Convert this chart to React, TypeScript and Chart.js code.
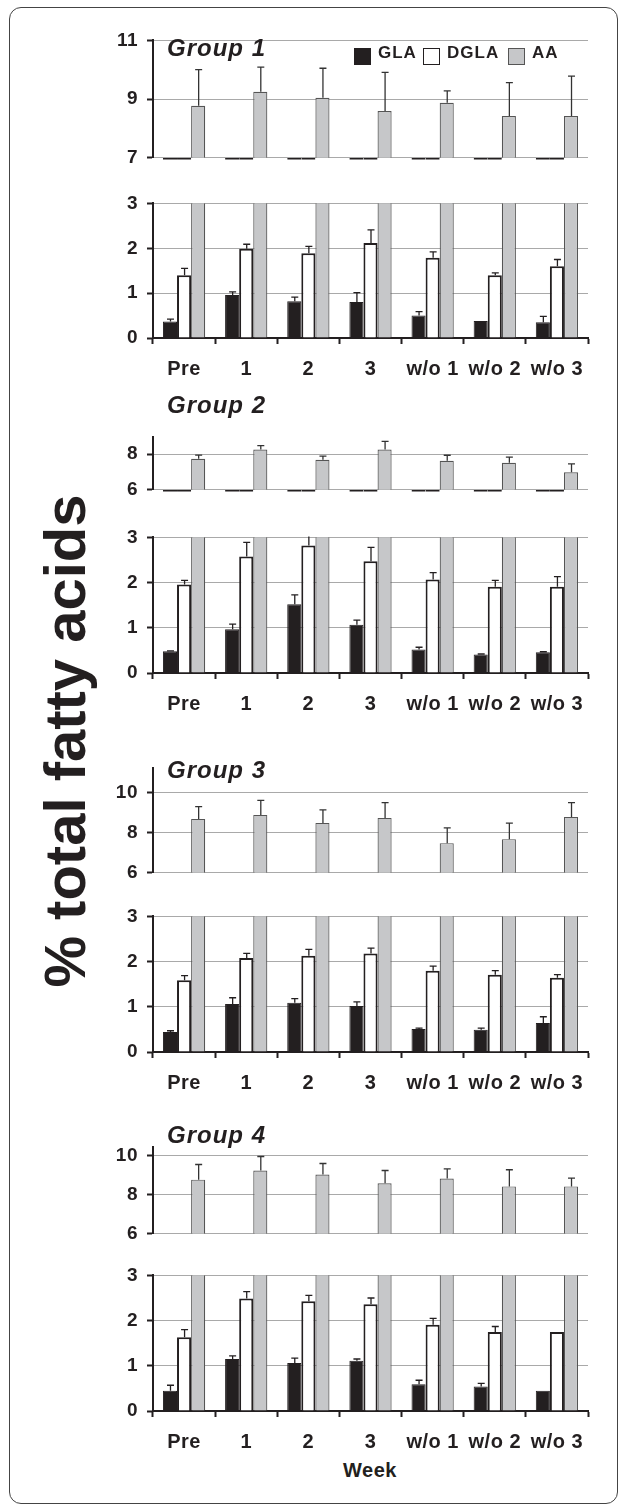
import React, { useEffect, useRef } from 'react';
import Chart from 'chart.js/auto';

// ---------- data ----------
const weeks = ['Pre', '1', '2', '3', 'w/o 1', 'w/o 2', 'w/o 3'];
const seriesNames = ['GLA', 'DGLA', 'AA'];
const groupNames = ['Group 1', 'Group 2', 'Group 3', 'Group 4'];

const g1GLA = [0.37, 0.96, 0.82, 0.8, 0.5, 0.38, 0.35];
const g1GLAsd = [0.05, 0.07, 0.09, 0.21, 0.09, 0, 0.13];
const g1DGLA = [1.4, 1.99, 1.89, 2.12, 1.79, 1.4, 1.6];
const g1DGLAsd = [0.15, 0.1, 0.15, 0.29, 0.13, 0.05, 0.15];
const g1AA = [8.77, 9.25, 9.04, 8.59, 8.87, 8.42, 8.42];
const g1AAsd = [1.23, 0.84, 1.01, 1.32, 0.41, 1.14, 1.36];

const g2GLA = [0.48, 0.97, 1.52, 1.07, 0.52, 0.41, 0.46];
const g2GLAsd = [0.01, 0.11, 0.21, 0.1, 0.05, 0.01, 0.01];
const g2DGLA = [1.96, 2.58, 2.82, 2.47, 2.07, 1.91, 1.91];
const g2DGLAsd = [0.09, 0.31, 0.25, 0.31, 0.15, 0.14, 0.22];
const g2AA = [7.74, 8.26, 7.68, 8.26, 7.63, 7.52, 6.98];
const g2AAsd = [0.21, 0.22, 0.21, 0.47, 0.31, 0.32, 0.47];

const g3GLA = [0.44, 1.06, 1.09, 1.02, 0.51, 0.49, 0.64];
const g3GLAsd = [0.03, 0.14, 0.09, 0.09, 0.02, 0.04, 0.14];
const g3DGLA = [1.59, 2.08, 2.13, 2.18, 1.8, 1.71, 1.64];
const g3DGLAsd = [0.1, 0.1, 0.14, 0.12, 0.1, 0.09, 0.07];
const g3AA = [8.68, 8.88, 8.48, 8.73, 7.47, 7.67, 8.78];
const g3AAsd = [0.61, 0.72, 0.65, 0.76, 0.76, 0.8, 0.71];

const g4GLA = [0.45, 1.15, 1.06, 1.11, 0.59, 0.54, 0.45];
const g4GLAsd = [0.12, 0.07, 0.11, 0.04, 0.09, 0.07, 0];
const g4DGLA = [1.63, 2.49, 2.43, 2.36, 1.91, 1.75, 1.75];
const g4DGLAsd = [0.17, 0.15, 0.13, 0.14, 0.14, 0.12, 0];
const g4AA = [8.78, 9.25, 9.04, 8.59, 8.84, 8.43, 8.43];
const g4AAsd = [0.78, 0.72, 0.57, 0.66, 0.49, 0.86, 0.43];

const lowerTicks = [0, 1, 2, 3];
const upperTicks = [[7, 9, 11], [6, 8], [6, 8, 10], [6, 8, 10]];
const upperMin = [7, 6, 6, 6];
const upperMax = [11, 8.95, 11.2, 10.44];
const lowerMin = 0;
const lowerMax = 3;

const groups = [
  { gla: g1GLA, glaSd: g1GLAsd, dgla: g1DGLA, dglaSd: g1DGLAsd, aa: g1AA, aaSd: g1AAsd },
  { gla: g2GLA, glaSd: g2GLAsd, dgla: g2DGLA, dglaSd: g2DGLAsd, aa: g2AA, aaSd: g2AAsd },
  { gla: g3GLA, glaSd: g3GLAsd, dgla: g3DGLA, dglaSd: g3DGLAsd, aa: g3AA, aaSd: g3AAsd },
  { gla: g4GLA, glaSd: g4GLAsd, dgla: g4DGLA, dglaSd: g4DGLAsd, aa: g4AA, aaSd: g4AAsd },
];

// ---------- layout / style ----------
const FONT = '"Liberation Sans", Arial, Helvetica, sans-serif';
const INK = '#231f20';
const GRAY = '#c6c7c9';
const GRID = '#a9a9a9';
const PAD = 16;
const XH = 46;
const AXIS_LEFT = 153;
const RIGHT_PAD = 37;

const layout = [
  { title: 56, uTop: 36, uBot: 162, lTop: 199, lBot: 338, baseMark: true },
  { title: 413, uTop: 433, uBot: 494, lTop: 533, lBot: 673, baseMark: true },
  { title: 778, uTop: 764, uBot: 877, lTop: 912, lBot: 1052, baseMark: false },
  { title: 1143, uTop: 1143, uBot: 1238, lTop: 1271, lBot: 1411, baseMark: false },
];

const errorBarPlugin = {
  id: 'errorBars',
  afterDatasetsDraw(chart: any) {
    const { ctx, chartArea } = chart;
    const y = chart.scales.y;
    ctx.save();
    ctx.beginPath();
    ctx.rect(chartArea.left, chartArea.top - 1, chartArea.right - chartArea.left, chartArea.bottom - chartArea.top + 1);
    ctx.clip();
    chart.data.datasets.forEach((ds: any, i: number) => {
      if (!ds.errors) return;
      const meta = chart.getDatasetMeta(i);
      meta.data.forEach((bar: any, j: number) => {
        const sd = ds.errors[j];
        if (!sd) return;
        const v = ds.data[j];
        const yv = y.getPixelForValue(v);
        const yt = y.getPixelForValue(v + sd);
        ctx.strokeStyle = ds.errorColor || INK;
        ctx.lineWidth = 1.3;
        ctx.beginPath();
        ctx.moveTo(bar.x + 0.5, yv);
        ctx.lineTo(bar.x + 0.5, yt);
        ctx.moveTo(bar.x - 3, yt);
        ctx.lineTo(bar.x + 4, yt);
        ctx.stroke();
      });
    });
    ctx.restore();
  },
};

const spacingPlugin = {
  id: 'spacing',
  beforeDraw(chart: any) {
    try {
      (chart.ctx as any).letterSpacing = '0.5px';
    } catch (e) {}
  },
};

type PanelProps = {
  top: number;
  height: number;
  showX: boolean;
  yMin: number;
  yMax: number;
  yTicks: number[];
  datasets: any[];
};

function Panel({ top, height, showX, yMin, yMax, yTicks, datasets }: PanelProps) {
  const ref = useRef<HTMLCanvasElement>(null);
  useEffect(() => {
    const chart = new Chart(ref.current as HTMLCanvasElement, {
      type: 'bar',
      data: { labels: weeks, datasets },
      options: {
        responsive: false,
        animation: false,
        events: [],
        layout: { padding: { top: PAD, bottom: showX ? 0 : PAD, left: 0, right: RIGHT_PAD } },
        plugins: { legend: { display: false }, tooltip: { enabled: false } },
        scales: {
          x: {
            display: showX,
            offset: true,
            afterFit: (s: any) => {
              s.height = showX ? XH : 0;
            },
            grid: {
              display: true,
              offset: true,
              drawOnChartArea: false,
              drawTicks: true,
              tickLength: 6,
              tickWidth: 2,
              tickColor: INK,
            },
            border: { display: true, color: INK, width: 2 },
            ticks: {
              color: INK,
              font: { family: FONT, size: 20, weight: 'bold' },
              padding: 13,
              maxRotation: 0,
              autoSkip: false,
            },
          },
          y: {
            min: yMin,
            max: yMax,
            afterFit: (s: any) => {
              s.width = AXIS_LEFT;
            },
            afterBuildTicks: (s: any) => {
              s.ticks = yTicks.map((v) => ({ value: v }));
            },
            grid: {
              color: (c: any) => (showX && c.tick && c.tick.value === 0 ? 'rgba(0,0,0,0)' : GRID),
              lineWidth: 1,
              drawTicks: true,
              tickLength: 6,
              tickWidth: 2,
              tickColor: INK,
            },
            border: { display: true, color: INK, width: 2 },
            ticks: {
              color: INK,
              font: { family: FONT, size: 19, weight: 'bold' },
              padding: 9,
              autoSkip: false,
            },
          },
        },
      } as any,
      plugins: [spacingPlugin, errorBarPlugin],
    });
    return () => chart.destroy();
  }, []);
  return (
    <canvas
      ref={ref}
      width={625}
      height={height}
      style={{ position: 'absolute', left: 0, top, width: 625, height }}
    />
  );
}

const barCommon = { categoryPercentage: 0.68, barPercentage: 1 };

function lowerDatasets(g: any) {
  return [
    { label: seriesNames[0], data: g.gla, errors: g.glaSd, errorColor: INK, backgroundColor: INK, borderColor: INK, borderWidth: 1, clip: 0, ...barCommon },
    { label: seriesNames[1], data: g.dgla, errors: g.dglaSd, errorColor: INK, backgroundColor: '#ffffff', borderColor: INK, borderWidth: 2, clip: 0, ...barCommon },
    { label: seriesNames[2], data: g.aa, backgroundColor: GRAY, borderColor: '#555555', borderWidth: 1.2, clip: 0, ...barCommon },
  ];
}

function upperDatasets(g: any, min: number, mark: boolean) {
  const hidden = mark
    ? { base: min, borderSkipped: false, clip: { left: 0, right: 0, top: 0, bottom: 2 } }
    : { clip: 0 };
  return [
    { label: seriesNames[0], data: g.gla, backgroundColor: INK, borderColor: INK, borderWidth: 2, ...hidden, ...barCommon },
    { label: seriesNames[1], data: g.dgla, backgroundColor: '#ffffff', borderColor: INK, borderWidth: 2, ...hidden, ...barCommon },
    { label: seriesNames[2], data: g.aa, errors: g.aaSd, errorColor: '#333333', backgroundColor: GRAY, borderColor: '#555555', borderWidth: 1.2, clip: 0, ...barCommon },
  ];
}

const textBase: React.CSSProperties = {
  position: 'absolute',
  fontFamily: FONT,
  fontWeight: 'bold',
  color: INK,
  lineHeight: 1,
  whiteSpace: 'nowrap',
};

function LegendItem({ x, box, border, label }: { x: number; box: string; border: string; label: string }) {
  return (
    <>
      <div style={{ position: 'absolute', left: x, top: 48, width: 17, height: 17, boxSizing: 'border-box', background: box, border: `1.5px solid ${border}` }} />
      <div style={{ ...textBase, left: x + 24, top: 58 - 0.8465 * 17, fontSize: 17, letterSpacing: 1 }}>{label}</div>
    </>
  );
}

export default function App() {
  return (
    <div style={{ position: 'absolute', left: 0, top: 0, width: 625, height: 1510, background: '#fff', overflow: 'hidden' }}>
      <div
        style={{
          position: 'absolute',
          left: 9,
          top: 7,
          width: 609,
          height: 1497,
          boxSizing: 'border-box',
          border: '1.5px solid #444',
          borderRadius: 12,
        }}
      />
      {layout.map((L, gi) => (
        <React.Fragment key={gi}>
          <Panel
            top={L.uTop - PAD}
            height={L.uBot - L.uTop + 2 * PAD}
            showX={false}
            yMin={upperMin[gi]}
            yMax={upperMax[gi]}
            yTicks={upperTicks[gi]}
            datasets={upperDatasets(groups[gi], upperMin[gi], L.baseMark)}
          />
          <Panel
            top={L.lTop - PAD}
            height={L.lBot - L.lTop + PAD + XH}
            showX={true}
            yMin={lowerMin}
            yMax={lowerMax}
            yTicks={lowerTicks}
            datasets={lowerDatasets(groups[gi])}
          />
          <div style={{ ...textBase, left: 167, top: L.title - 0.8465 * 24, fontSize: 24, fontStyle: 'italic', letterSpacing: 1 }}>
            {groupNames[gi]}
          </div>
        </React.Fragment>
      ))}
      <LegendItem x={354} box={INK} border={INK} label={seriesNames[0]} />
      <LegendItem x={423} box="#ffffff" border={INK} label={seriesNames[1]} />
      <LegendItem x={508} box={GRAY} border="#555" label={seriesNames[2]} />
      <div style={{ ...textBase, left: 270, width: 200, textAlign: 'center', top: 1477 - 0.8465 * 20, fontSize: 20, letterSpacing: 0.5 }}>
        Week
      </div>
      <div
        style={{
          ...textBase,
          left: 65 - 350,
          top: 741 - 35,
          width: 700,
          height: 70,
          lineHeight: '70px',
          fontSize: 58,
          textAlign: 'center',
          transform: 'rotate(-90deg)',
          transformOrigin: '50% 50%',
        }}
      >
        % total fatty acids
      </div>
    </div>
  );
}
